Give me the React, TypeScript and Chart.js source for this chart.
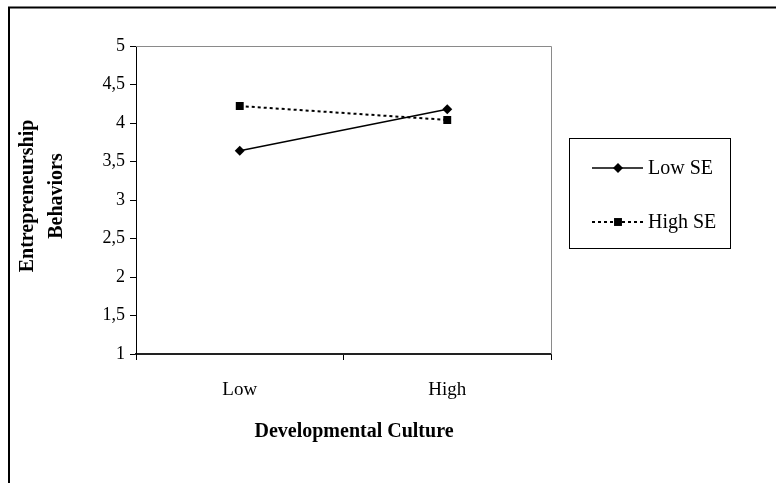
import React, { useEffect, useRef } from "react";
import { Chart, registerables } from "chart.js";

Chart.register(...registerables);

const categories = ["Low", "High"];
const lowSE = [3.64, 4.18];
const highSE = [4.22, 4.04];
const seriesNames = ["Low SE", "High SE"];
const yTicks = [1, 1.5, 2, 2.5, 3, 3.5, 4, 4.5, 5];
const xTitle = "Developmental Culture";
const yTitle = ["Entrepreneurship", "Behaviors"];

const FONT = "'Liberation Serif', 'Times New Roman', serif";

const decorPlugin = {
  id: "decor",
  afterDraw(chart: any) {
    const ctx = chart.ctx;
    const a = chart.chartArea;
    ctx.save();
    // outer frame (top + left)
    ctx.strokeStyle = "#000";
    ctx.lineWidth = 2;
    ctx.beginPath();
    ctx.moveTo(9, 483);
    ctx.lineTo(9, 7.5);
    ctx.lineTo(776, 7.5);
    ctx.stroke();
    // plot area top/right border
    ctx.strokeStyle = "#8a8a8a";
    ctx.lineWidth = 1;
    ctx.beginPath();
    ctx.moveTo(a.left, a.top + 0.5);
    ctx.lineTo(a.right + 0.5, a.top + 0.5);
    ctx.lineTo(a.right + 0.5, a.bottom);
    ctx.stroke();
    // titles
    ctx.fillStyle = "#000";
    ctx.font = `bold 20px ${FONT}`;
    ctx.textAlign = "center";
    ctx.textBaseline = "middle";
    ctx.fillText(xTitle, 354, 432);
    ctx.font = `bold 20px ${FONT}`;
    ctx.save();
    ctx.translate(28, 196);
    ctx.rotate(-Math.PI / 2);
    ctx.fillText(yTitle[0], 0, 0);
    ctx.restore();
    ctx.save();
    ctx.translate(57, 196);
    ctx.rotate(-Math.PI / 2);
    ctx.fillText(yTitle[1], 0, 0);
    ctx.restore();
    // legend box
    const bx = 569.5, by = 138.5, bw = 161, bh = 110;
    ctx.strokeStyle = "#000";
    ctx.lineWidth = 1;
    ctx.strokeRect(bx, by, bw, bh);
    const rows = [168, 222];
    chart.data.datasets.forEach((ds: any, i: number) => {
      const y = rows[i];
      ctx.save();
      ctx.strokeStyle = ds.borderColor;
      ctx.lineWidth = ds.borderWidth;
      ctx.setLineDash(ds.borderDash || []);
      ctx.beginPath();
      ctx.moveTo(592, y);
      ctx.lineTo(643, y);
      ctx.stroke();
      ctx.restore();
      ctx.save();
      ctx.fillStyle = ds.pointBackgroundColor;
      ctx.beginPath();
      if (ds.pointStyle === "rectRot") {
        const r = ds.pointRadius;
        ctx.moveTo(618 - r, y);
        ctx.lineTo(618, y - r);
        ctx.lineTo(618 + r, y);
        ctx.lineTo(618, y + r);
        ctx.closePath();
      } else {
        const s = ds.pointRadius * Math.SQRT1_2;
        ctx.rect(618 - s, y - s, 2 * s, 2 * s);
      }
      ctx.fill();
      ctx.restore();
      ctx.fillStyle = "#000";
      ctx.font = `20px ${FONT}`;
      ctx.textAlign = "left";
      ctx.textBaseline = "middle";
      ctx.fillText(ds.label, 648, y + 1);
    });
    ctx.restore();
  },
};

export default function App() {
  const ref = useRef<HTMLCanvasElement>(null);
  useEffect(() => {
    document.body.style.margin = "0";
    const chart = new Chart(ref.current!, {
      type: "line",
      data: {
        labels: categories,
        datasets: [
          {
            label: seriesNames[0],
            data: lowSE,
            borderColor: "#000",
            backgroundColor: "#000",
            borderWidth: 1.5,
            pointStyle: "rectRot",
            pointRadius: 5,
            pointBackgroundColor: "#000",
            pointBorderWidth: 0,
          },
          {
            label: seriesNames[1],
            data: highSE,
            borderColor: "#000",
            backgroundColor: "#000",
            borderWidth: 2,
            borderDash: [3, 3],
            pointStyle: "rect",
            pointRadius: 5.6,
            pointBackgroundColor: "#000",
            pointBorderWidth: 0,
          },
        ] as any,
      },
      options: {
        animation: false,
        responsive: false,
        layout: { padding: { left: 0, top: 46, right: 225, bottom: 0 } },
        plugins: { legend: { display: false }, tooltip: { enabled: false } },
        scales: {
          x: {
            type: "category",
            offset: true,
            grid: {
              offset: true,
              drawOnChartArea: false,
              drawTicks: true,
              tickLength: 6,
              color: "#000",
            },
            border: { color: "#222", width: 2 },
            ticks: { color: "#000", font: { family: FONT, size: 19 }, padding: 19 },
            afterFit: (s: any) => {
              s.height = 483 - 354 - 0;
            },
          },
          y: {
            min: 1,
            max: 5,
            afterBuildTicks: (s: any) => {
              s.ticks = yTicks.map((v) => ({ value: v }));
            },
            grid: {
              drawOnChartArea: false,
              drawTicks: true,
              tickLength: 6,
              color: "#000",
            },
            border: { color: "#000", width: 1 },
            ticks: {
              color: "#000",
              font: { family: FONT, size: 18 },
              padding: 5,
              callback: (v: any) => String(v).replace(".", ","),
            },
            afterFit: (s: any) => {
              s.width = 136;
            },
          },
        },
      },
      plugins: [decorPlugin],
    });
    return () => chart.destroy();
  }, []);
  return <canvas ref={ref} width={776} height={483} style={{ display: "block" }} />;
}
